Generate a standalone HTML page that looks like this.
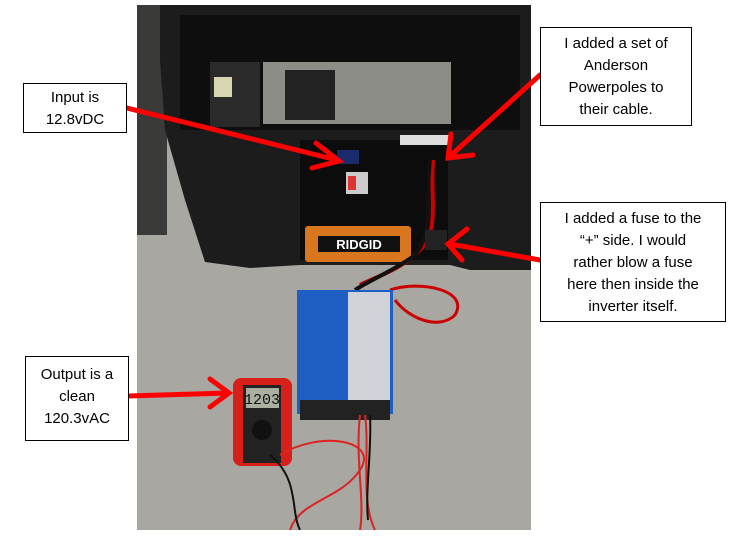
<!DOCTYPE html>
<html><head><meta charset="utf-8"><style>
body{margin:0;background:#fff;width:736px;height:541px;overflow:hidden;position:relative;font-family:"Liberation Sans",sans-serif}
.b{position:absolute;border:1px solid #000;background:#fff;text-align:center;font-size:15px;line-height:22px;color:#000;box-sizing:border-box}
svg{position:absolute;left:0;top:0}
</style></head><body>
<svg width="736" height="541" viewBox="0 0 736 541">
<defs><clipPath id="c"><rect x="137" y="5" width="394" height="525"/></clipPath></defs>
<g clip-path="url(#c)">
<rect x="137" y="5" width="394" height="525" fill="#a8a7a2"/>
<rect x="137" y="5" width="30" height="230" fill="#3a3a38"/>
<path d="M160 5 H531 V270 H470 L450 265 H300 L250 268 L205 262 L185 200 L165 130 L160 60 Z" fill="#1c1c1c"/>
<path d="M180 15 H520 V130 H180 Z" fill="#0e0e0e"/>
<rect x="263" y="62" width="188" height="62" fill="#8d8d88"/>
<rect x="285" y="70" width="50" height="50" fill="#222"/>
<rect x="210" y="62" width="50" height="65" fill="#2a2a2a"/>
<rect x="214" y="77" width="18" height="20" fill="#d8d6b0"/>
<rect x="300" y="140" width="148" height="120" fill="#0c0c0c"/>
<rect x="337" y="150" width="22" height="14" fill="#1a2a6a"/>
<rect x="346" y="172" width="22" height="22" fill="#ccc"/>
<rect x="348" y="176" width="8" height="14" fill="#d33"/>
<rect x="400" y="135" width="50" height="10" fill="#ddd"/>
<rect x="305" y="226" width="106" height="36" rx="3" fill="#d9771f"/>
<rect x="318" y="236" width="82" height="16" fill="#111"/>
<text x="359" y="249" font-size="13" font-weight="bold" fill="#fff" text-anchor="middle" font-family="Liberation Sans">RIDGID</text>
<path d="M433 160 C430 200 440 230 420 250 C400 270 380 275 360 285" stroke="#c00" stroke-width="4" fill="none"/>
<path d="M430 160 C425 200 435 230 415 255 C395 270 370 280 355 290" stroke="#111" stroke-width="4" fill="none"/>
<rect x="425" y="230" width="22" height="20" fill="#222"/>
<path d="M390 290 C420 280 470 290 455 315 C440 330 410 320 395 300" stroke="#c00" stroke-width="3" fill="none"/>
<rect x="297" y="290" width="96" height="124" fill="#1f5fc4"/>
<rect x="348" y="292" width="42" height="116" fill="#cfd3d8"/>
<rect x="300" y="400" width="90" height="20" fill="#222"/>
<rect x="233" y="378" width="59" height="88" rx="8" fill="#d8201a"/>
<rect x="243" y="385" width="38" height="78" fill="#222"/>
<rect x="246" y="388" width="33" height="20" fill="#aab0a0"/>
<text x="262" y="404" font-size="15" fill="#111" text-anchor="middle" font-family="Liberation Mono">1203</text>
<circle cx="262" cy="430" r="10" fill="#111"/>
<path d="M360 415 C355 460 365 500 360 530 M365 415 C370 450 360 500 375 530" stroke="#d22" stroke-width="2" fill="none"/>
<path d="M280 455 C320 430 380 440 360 470 C340 500 300 500 290 530" stroke="#d22" stroke-width="2" fill="none"/>
<path d="M270 455 C300 480 290 510 300 530 M370 415 C372 450 365 490 368 520" stroke="#111" stroke-width="2" fill="none"/>
</g>
<g stroke="#f00" stroke-width="5" fill="none" stroke-linecap="round">
<line x1="127" y1="108" x2="337" y2="160"/><polyline points="316,143 339,161 312,168"/>
<line x1="540" y1="75" x2="449" y2="157"/><polyline points="451,134 448,158 473,155"/>
<line x1="540" y1="260" x2="450" y2="244"/><polyline points="467,229 448,244 462,260"/>
<line x1="128" y1="396" x2="228" y2="393"/><polyline points="210,379 229,393 210,407"/>
</g>
</svg>
<div class="b" style="left:23px;top:83px;width:104px;height:50px;padding-top:3px">Input is<br>12.8vDC</div>
<div class="b" style="left:25px;top:356px;width:104px;height:85px;padding-top:7px">Output is a<br>clean<br>120.3vAC</div>
<div class="b" style="left:540px;top:27px;width:152px;height:99px;padding-top:5px">I added a set of<br>Anderson<br>Powerpoles to<br>their cable.</div>
<div class="b" style="left:540px;top:202px;width:186px;height:120px;padding-top:5px">I added a fuse to the<br>“+” side. I would<br>rather blow a fuse<br>here then inside the<br>inverter itself.</div>
</body></html>
